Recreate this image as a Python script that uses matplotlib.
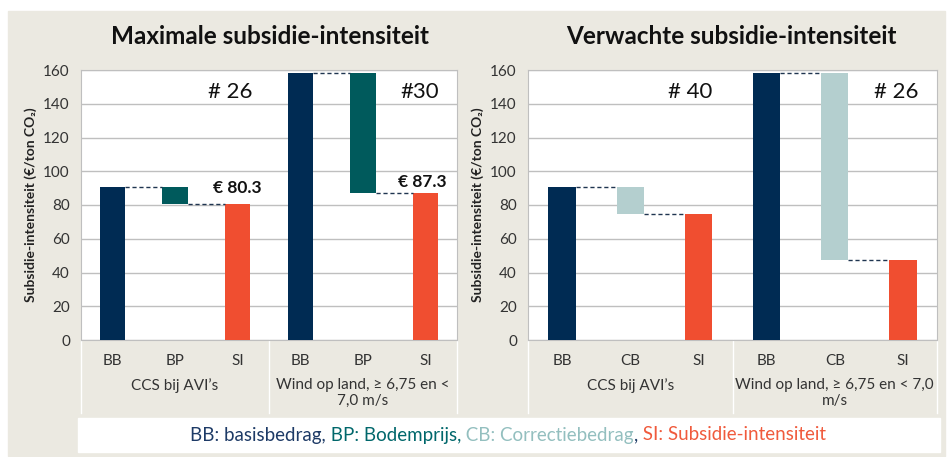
import matplotlib.pyplot as plt
from matplotlib.patches import Rectangle
from matplotlib.transforms import blended_transform_factory

plt.rcParams['font.family'] = ['Lato', 'DejaVu Sans']

# data
groups_left = ["CCS bij AVI’s", "Wind op land, ≥ 6,75 en <\n7,0 m/s"]
groups_right = ["CCS bij AVI’s", "Wind op land, ≥ 6,75 en < 7,0\nm/s"]
cats_left = ["BB", "BP", "SI"]
cats_right = ["BB", "CB", "SI"]
max_bb = [90.7, 158.0]
max_si = [80.3, 87.3]
verw_bb = [90.7, 158.0]
verw_si = [74.5, 47.4]
max_labels = ["# 26", "#30"]
verw_labels = ["# 40", "# 26"]
si_labels = ["€ 80.3", "€ 87.3"]

navy = '#002b53'
teal = '#005a5c'
light = '#b4cfcf'
orange = '#f04e30'
beige = '#ebe9e1'

W, H = 947, 457
fig = plt.figure(figsize=(W / 100, H / 100), dpi=100)
fig.patch.set_facecolor('white')
fig.patches.append(Rectangle((8 / W, 1 - 456 / H), 937 / W, 445 / H,
                             transform=fig.transFigure, color=beige, zorder=-10))
fig.patches.append(Rectangle((78 / W, 1 - 452 / H), 862 / W, 34 / H,
                             transform=fig.transFigure, color='white', zorder=-9))


def px_axes(x0, x1, y0=70, y1=340):
    return fig.add_axes([x0 / W, 1 - y1 / H, (x1 - x0) / W, (y1 - y0) / H])


def waterfall(ax, cats, groups, bb, si, mid_color, top_labels, value_labels=None):
    w = 0.4
    for g in range(len(groups)):
        x0 = g * 3
        ax.bar(x0, bb[g], width=w, color=navy, zorder=3)
        ax.bar(x0 + 1, bb[g] - si[g], bottom=si[g], width=w, color=mid_color, zorder=3)
        ax.bar(x0 + 2, si[g], width=w, color=orange, zorder=3)
        # dashed connectors between the bars
        ax.plot([x0 + w / 2, x0 + 1 - w / 2], [bb[g], bb[g]], ls=(0, (3, 2)),
                color='#1f3550', lw=1, zorder=4)
        ax.plot([x0 + 1 + w / 2, x0 + 2 - w / 2], [si[g], si[g]], ls=(0, (3, 2)),
                color='#1f3550', lw=1, zorder=4)
    ax.set_xlim(-0.5, 3 * len(groups) - 0.5)
    ax.set_ylim(0, 160)
    ax.set_yticks(range(0, 161, 20))
    ax.set_xticks(range(3 * len(groups)))
    ax.set_xticklabels(cats * len(groups))
    ax.tick_params(length=0, labelsize=11, colors='#333333', pad=8)
    ax.tick_params(axis='x', pad=10)
    ax.grid(axis='y', color='#bfbfbf', lw=1, zorder=0)
    for s in ax.spines.values():
        s.set_color('#bfbfbf')
    trans = blended_transform_factory(ax.transData, ax.transAxes)
    for g, name in enumerate(groups):
        ax.text(g * 3 + 1, -0.14, name, transform=trans, ha='center', va='top',
                fontsize=11, color='#333333', linespacing=1.2)
    for xs in range(len(groups) + 1):
        ax.plot([xs * 3 - 0.5] * 2, [0, -0.27], transform=trans, color='white',
                lw=1, clip_on=False)
    ax.text(1.88, 147, top_labels[0], ha='center', va='center', fontsize=16, color='#111111')
    ax.text(4.9, 147, top_labels[1], ha='center', va='center', fontsize=16, color='#111111')
    if value_labels:
        ax.text(1.99, 90, value_labels[0], ha='center', va='center', fontsize=12.5,
                fontweight='bold', color='#111111')
        ax.text(4.95, 93.6, value_labels[1], ha='center', va='center', fontsize=12.5,
                fontweight='bold', color='#111111')


ax1 = px_axes(81, 457)
waterfall(ax1, cats_left, groups_left, max_bb, max_si, teal, max_labels, si_labels)
ax2 = px_axes(528, 937)
waterfall(ax2, cats_right, groups_right, verw_bb, verw_si, light, verw_labels)

fig.text(270 / W, 1 - 36 / H, "Maximale subsidie-intensiteit", ha='center', va='center',
         fontsize=17.5, fontweight='bold', color='#111111')
fig.text(731 / W, 1 - 36 / H, "Verwachte subsidie-intensiteit", ha='center', va='center',
         fontsize=17.5, fontweight='bold', color='#111111')
ylab = "Subsidie-intensiteit (€/ton CO₂)"
fig.text(31 / W, 1 - 205 / H, ylab, rotation=90, ha='center', va='center',
         fontsize=10, fontweight='bold', color='#222222')
fig.text(478 / W, 1 - 205 / H, ylab, rotation=90, ha='center', va='center',
         fontsize=10, fontweight='bold', color='#222222')

# multi-coloured legend line, pieces chained one after the other
pieces = [("BB: basisbedrag,", '#1d3a66'), (" BP: Bodemprijs,", '#00676b'),
          (" CB: Correctiebedrag", '#93bfbf'), (",", '#1d3a66'),
          (" SI: Subsidie-intensiteit", '#f05a3c')]
first = fig.text(188 / W, 1 - 435 / H, pieces[0][0], color=pieces[0][1], fontsize=13.5,
                 ha='left', va='center')
prev = first
chain = [first]
for txt, col in pieces[1:]:
    prev = ax1.annotate(txt, xy=(1, 0), xycoords=prev, ha='left', va='bottom',
                        color=col, fontsize=13.5, annotation_clip=False)
    chain.append(prev)
fig.canvas.draw()
r = fig.canvas.get_renderer()
left = chain[0].get_window_extent(r).x0
right = chain[-1].get_window_extent(r).x1
shift = 508 - (left + right) / 2
first.set_x(first.get_position()[0] + shift / W)

fig.savefig('out.png', dpi=100, facecolor='white')
